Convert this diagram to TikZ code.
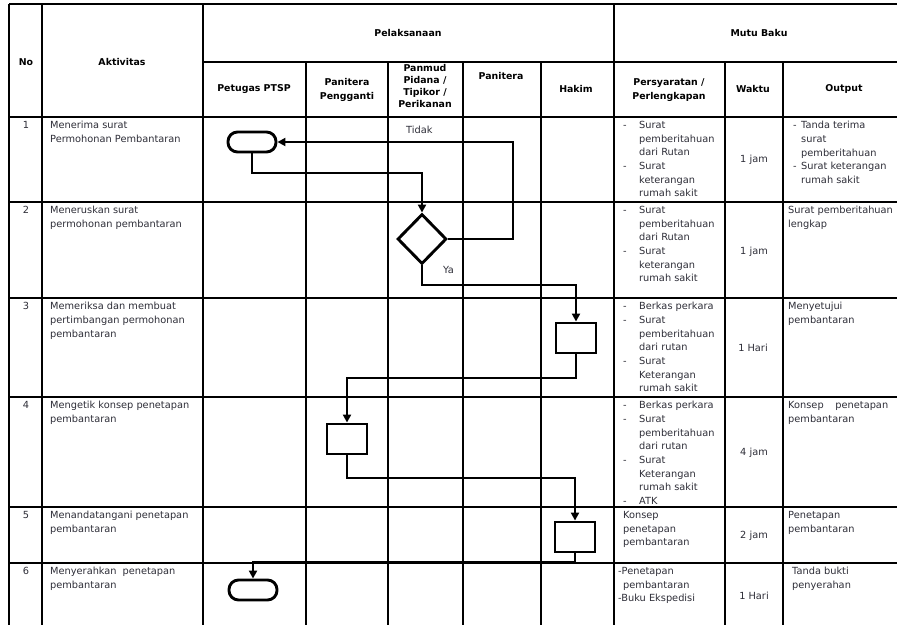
\documentclass[tikz,border=0pt]{standalone}
\usepackage{fontspec}
\setmainfont{DejaVu Sans}
\usetikzlibrary{arrows.meta,shapes.geometric}
\definecolor{txtc}{RGB}{45,45,55}
\newcommand\dsh{\makebox[16pt][l]{-}}
\newcommand\myind{\hspace*{16pt}}
\newcommand\odsh{\makebox[8pt][l]{-}}
\newcommand\oind{\hspace*{8pt}}
\begin{document}
\begin{tikzpicture}[x=1pt,y=-1pt,
  gridline/.style={line width=1.5pt},
  flow/.style={line width=2.9pt},
  arr/.style={flow,-{Triangle[length=8pt,width=8pt]}},
  txt/.style={anchor=north west,inner sep=0pt,align=left,font=\fontsize{9.8}{13.7}\selectfont,text=txtc},
  ctxt/.style={inner sep=0pt,align=center,font=\fontsize{9.8}{13.7}\selectfont,text=txtc},
  hd/.style={inner sep=0pt,align=center,font=\fontsize{9.4}{14}\selectfont\bfseries},
  term/.style={draw,line width=2.9pt,rounded corners=9.5pt,minimum width=48pt,minimum height=20pt,fill=white,inner sep=0pt},
  proc/.style={draw,line width=2.9pt,minimum width=40pt,minimum height=30pt,fill=white,inner sep=0pt},
  dec/.style={draw,line width=2.9pt,diamond,minimum width=49pt,minimum height=50pt,fill=white,inner sep=0pt}]
\useasboundingbox (0,0) rectangle (897,625);
% grid
\draw[line width=2.2pt] (9,4) -- (897,4);
\draw[line width=2.2pt] (9,4) -- (9,625);
\foreach \x in {42,203,614} \draw[gridline] (\x,4) -- (\x,625);
\foreach \x in {306,388,463,541,725,783} \draw[gridline] (\x,62) -- (\x,625);
\draw[gridline] (203,62) -- (897,62);
\foreach \y in {117,202,298,397,507,563} \draw[gridline] (9,\y) -- (897,\y);
% headers
\node[hd] (hno) at (26,62) {No};
\node[hd] (hakt) at (122,62) {Aktivitas};
\node[hd] (hpel) at (408,33) {Pelaksanaan};
\node[hd] (hmutu) at (759,33) {Mutu Baku};
\node[hd] (hptsp) at (254,89) {Petugas PTSP};
\node[hd] (hpp) at (347,90) {Panitera\\Pengganti};
\node[hd,font=\fontsize{9.4}{11.7}\selectfont\bfseries] (hpan) at (425,86) {Panmud\\Pidana /\\Tipikor /\\Perikanan};
\node[hd] (hpnt) at (501,76) {Panitera};
\node[hd] (hhak) at (576,89) {Hakim};
\node[hd] (hper) at (669,90) {Persyaratan /\\Perlengkapan};
\node[hd] (hwak) at (753,89) {Waktu};
\node[hd] (hout) at (844,89) {Output};
% numbers
\node[txt,anchor=north] (n1) at (26,121) {1};
\node[txt,anchor=north] (n2) at (26,206) {2};
\node[txt,anchor=north] (n3) at (26,302) {3};
\node[txt,anchor=north] (n4) at (26,401) {4};
\node[txt,anchor=north] (n5) at (26,511) {5};
\node[txt,anchor=north] (n6) at (26,567) {6};
% activities
\node[txt] (a1) at (50,121) {Menerima surat\\Permohonan Pembantaran};
\node[txt] (a2) at (50,206) {Meneruskan surat\\permohonan pembantaran};
\node[txt] (a3) at (50,302) {Memeriksa dan membuat\\pertimbangan permohonan\\pembantaran};
\node[txt] (a4) at (50,401) {Mengetik konsep penetapan\\pembantaran};
\node[txt] (a5) at (50,511) {Menandatangani penetapan\\pembantaran};
\node[txt] (a6) at (50,567) {Menyerahkan\hspace{0.6em}penetapan\\pembantaran};
% persyaratan
\node[txt] (p1) at (623,121) {\dsh Surat\\\myind pemberitahuan\\\myind dari Rutan\\\dsh Surat\\\myind keterangan\\\myind rumah sakit};
\node[txt] (p2) at (623,206) {\dsh Surat\\\myind pemberitahuan\\\myind dari Rutan\\\dsh Surat\\\myind keterangan\\\myind rumah sakit};
\node[txt] (p3) at (623,302) {\dsh Berkas perkara\\\dsh Surat\\\myind pemberitahuan\\\myind dari rutan\\\dsh Surat\\\myind Keterangan\\\myind rumah sakit};
\node[txt] (p4) at (623,401) {\dsh Berkas perkara\\\dsh Surat\\\myind pemberitahuan\\\myind dari rutan\\\dsh Surat\\\myind Keterangan\\\myind rumah sakit\\\dsh ATK};
\node[txt] (p5) at (623,511) {Konsep\\penetapan\\pembantaran};
\node[txt] (p6) at (618,567) {-Penetapan\\\hspace*{5pt}pembantaran\\-Buku Ekspedisi};
% waktu
\node[ctxt] (w1) at (754,160) {1 jam};
\node[ctxt] (w2) at (754,252) {1 jam};
\node[ctxt] (w3) at (753,348) {1 Hari};
\node[ctxt] (w4) at (754,453) {4 jam};
\node[ctxt] (w5) at (754,536) {2 jam};
\node[ctxt] (w6) at (754,596) {1 Hari};
% output
\node[txt] (o1) at (793,121) {\odsh Tanda terima\\\oind surat\\\oind pemberitahuan\\\odsh Surat keterangan\\\oind rumah sakit};
\node[txt] (o2) at (788,206) {Surat pemberitahuan\\lengkap};
\node[txt] (o3) at (788,302) {Menyetujui\\pembantaran};
\node[txt] (o4) at (788,401) {\makebox[100pt][s]{Konsep\hfill penetapan}\\pembantaran};
\node[txt] (o5) at (788,511) {Penetapan\\pembantaran};
\node[txt] (o6) at (792,567) {Tanda bukti\\penyerahan};
% flow shapes
\node[term] (t1) at (252,142) {};
\node[dec] (d1) at (422,239) {};
\node[proc] (b1) at (576,338) {};
\node[proc] (b2) at (347,439) {};
\node[proc] (b3) at (575,537) {};
\node[term] (t2) at (253,590) {};
% labels
\node[txt,anchor=west] (ltidak) at (406,130) {Tidak};
\node[txt,anchor=west] (lya) at (443,270) {Ya};
% connectors
\coordinate (c1) at (422,173);
\coordinate (c2) at (513,239);
\draw[arr] (t1.south) |- (c1) -- (d1.north);
\draw[arr] (d1.east) -- (c2) |- (t1.east);
\draw[arr] (d1.south) -- (d1.south |- 0,285) -| (b1.north);
\draw[arr] (b1.south) -- (b1.south |- 0,378) -| (b2.north);
\draw[arr] (b2.south) -- (b2.south |- 0,478) -| (b3.north);
\draw[arr] (b3.south) -- (b3.south |- 0,562) -| (t2.north);
\end{tikzpicture}
\end{document}
